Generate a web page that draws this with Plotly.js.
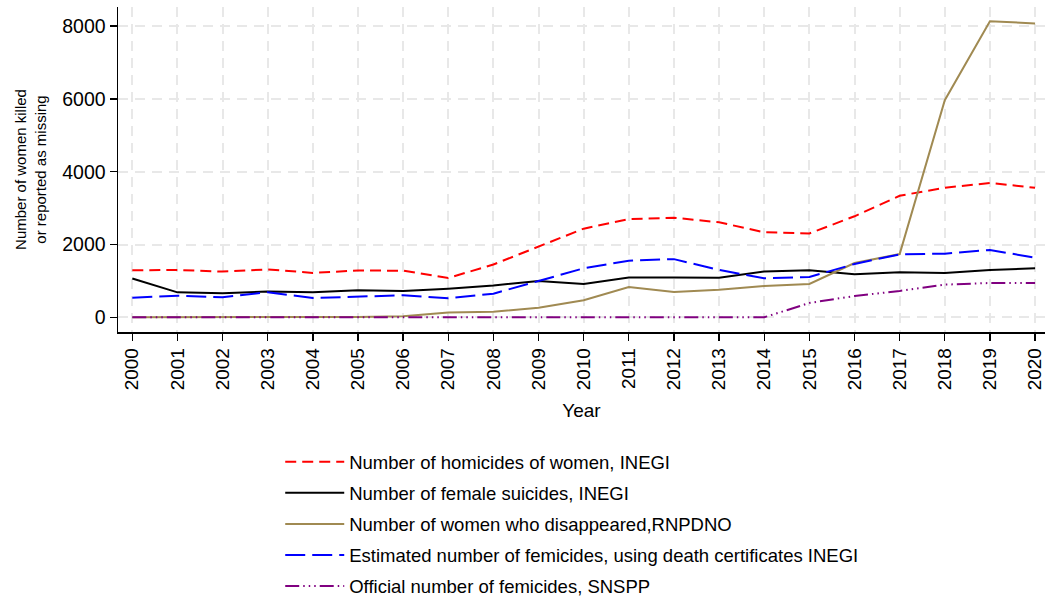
<!DOCTYPE html>
<html>
<head>
<meta charset="utf-8">
<script src="https://cdn.plot.ly/plotly-3.0.1.min.js"></script>
<style>html,body{margin:0;padding:0;background:#fff;}#chart{width:1045px;height:599px;}</style>
</head>
<body>
<div id="chart"></div>
<script>
const years = [2000,2001,2002,2003,2004,2005,2006,2007,2008,2009,2010,2011,2012,2013,2014,2015,2016,2017,2018,2019,2020];
const homicides = [1290,1300,1255,1315,1220,1285,1280,1080,1450,1940,2435,2700,2735,2610,2335,2305,2775,3340,3560,3690,3560];
const suicides = [1065,685,660,710,690,740,720,785,875,1000,915,1095,1090,1088,1260,1290,1185,1240,1220,1300,1345];
const disappeared = [0,0,0,0,0,10,30,130,150,260,470,832,695,758,860,915,1490,1738,5965,8136,8073];
const femicidesEst = [538,593,550,688,530,576,604,521,650,997,1346,1555,1598,1300,1071,1107,1464,1730,1748,1850,1638];
const femicidesOfficial = [0,0,0,0,0,0,0,0,0,0,0,0,0,0,0,393,586,723,898,942,942];
const yTicks = [0,2000,4000,6000,8000];

const names = [
  "Number of homicides of women, INEGI",
  "Number of female suicides, INEGI",
  "Number of women who disappeared,RNPDNO",
  "Estimated number of femicides, using death certificates INEGI",
  "Official number of femicides, SNSPP"
];
const FONT = '"Liberation Sans Narrow", "Liberation Sans", Arial, sans-serif';

const traces = [
  {x: years, y: homicides, name: names[0], legendgroup: 'a', mode: 'lines', line: {color: '#ff0000', width: 2, dash: '11px,6px'}},
  {x: years, y: suicides, name: names[1], legendgroup: 'b', mode: 'lines', line: {color: '#000000', width: 2}},
  {x: years, y: disappeared, name: names[2], legendgroup: 'c', mode: 'lines', line: {color: '#a08a52', width: 2}},
  {x: years, y: femicidesEst, name: names[3], legendgroup: 'd', mode: 'lines', line: {color: '#0000ff', width: 2, dash: '20px,7px'}},
  {x: years, y: femicidesOfficial, name: names[4], legendgroup: 'e', mode: 'lines', line: {color: '#800080', width: 2, dash: '14px,4px,1.5px,4px,1.5px,4px,1.5px,4px'}}
];
const layout = {
  width: 1045, height: 599,
  margin: {l: 118, r: 0, t: 7, b: 267},
  paper_bgcolor: '#ffffff', plot_bgcolor: '#ffffff',
  font: {family: FONT, size: 19, color: '#000'},
  showlegend: true,
  legend: {x: 0.175, xanchor: 'left', xref: 'paper', y: 0.26, yanchor: 'top', yref: 'container', orientation: 'v',
           font: {family: FONT, size: 18.5, color: '#000'}, bgcolor: 'rgba(0,0,0,0)', itemwidth: 59, tracegroupgap: 4},
  xaxis: {
    range: [1999.683, 2020.22], tickmode: 'array', tickvals: years, ticktext: years.map(String),
    tickangle: -90, ticks: 'outside', ticklen: 7, tickwidth: 1.3, tickcolor: '#000',
    showline: true, linecolor: '#000', linewidth: 1.5, mirror: false, ticklabeloverflow: 'allow', automargin: false,
    showgrid: true, gridcolor: '#e8e8e8', gridwidth: 2, griddash: '10px,7px',
    zeroline: false, tickfont: {family: FONT, size: 19},
    title: {text: 'Year', font: {family: FONT, size: 19}, standoff: 14}
  },
  yaxis: {
    range: [-404, 8525], tickmode: 'array', tickvals: yTicks, ticktext: yTicks.map(String),
    ticks: 'outside', ticklen: 7, tickwidth: 1.3, tickcolor: '#000', automargin: false,
    showline: true, linecolor: '#000', linewidth: 1.5,
    showgrid: true, gridcolor: '#e8e8e8', gridwidth: 2, griddash: '10px,7px',
    zeroline: false, tickfont: {family: FONT, size: 19.5},
    title: {text: 'Number of women killed<br>or reported as missing', font: {family: FONT, size: 15}, standoff: 12}
  }
};
Plotly.newPlot('chart', traces, layout, {displayModeBar: false, staticPlot: true});
</script>
</body>
</html>
